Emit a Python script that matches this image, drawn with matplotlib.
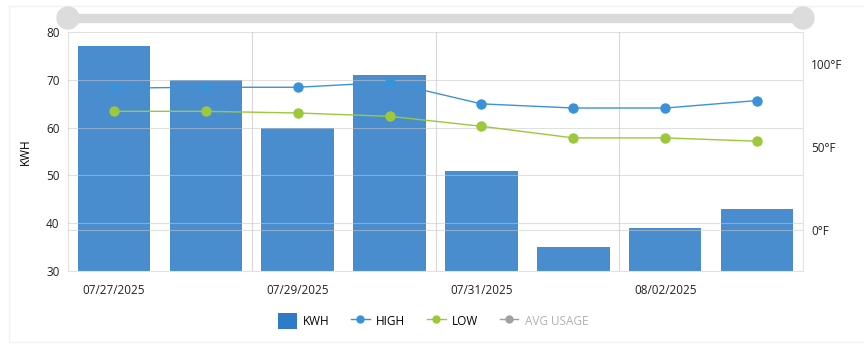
import numpy as np
import matplotlib.pyplot as plt
from matplotlib.patches import Patch, Ellipse, Rectangle
from matplotlib.lines import Line2D

plt.rcParams['font.family'] = ['Open Sans', 'DejaVu Sans']
plt.rcParams['font.size'] = 8.5

# daily usage and temperatures
dates = ["07/27/2025", "07/28/2025", "07/29/2025", "07/30/2025",
         "07/31/2025", "08/01/2025", "08/02/2025", "08/03/2025"]
kwh = [77, 70, 60, 71, 51, 35, 39, 43]
high_f = [85.5, 86, 86, 89, 76, 73.5, 73.5, 78]
low_f = [71.5, 71.5, 70.5, 68.5, 62.5, 55.5, 55.5, 53.5]

bar_col = "#4a8dce"
high_col = "#3b92d8"
low_col = "#9cc83c"

fig = plt.figure(figsize=(8.64, 3.45), dpi=100)
ax = fig.add_axes([68 / 864, 1 - 271 / 345, (803 - 68) / 864, (271 - 32) / 345])

x = np.arange(len(dates))
ax.bar(x, kwh, width=0.79, color=bar_col, zorder=2)
ax.set_xlim(-0.5, len(dates) - 0.5)
ax.set_ylim(30, 80)
ax.set_yticks([30, 40, 50, 60, 70, 80])
ax.set_ylabel("KWH", labelpad=10)

# horizontal grid sits above the bars, faintly
for yv in [40, 50, 60, 70]:
    ax.axhline(yv, color="#c8c8c8", lw=0.8, alpha=0.55, zorder=3)
# vertical separators every two days
for xv in [1.5, 3.5, 5.5]:
    ax.axvline(xv, color="#c8c8c8", lw=0.8, alpha=0.7, zorder=3)

ax.set_xticks(x[::2])
ax.set_xticklabels(dates[::2])
ax.tick_params(axis="both", length=0, colors="#222222", pad=6)
ax.tick_params(axis="x", pad=9)
for side in ["top", "left", "right", "bottom"]:
    ax.spines[side].set_color("#e2e2e2")
    ax.spines[side].set_linewidth(0.8)

# temperature axis on the right
ax2 = ax.twinx()
ax2.set_ylim(-24.7, 119.3)
ax2.set_yticks([0, 50, 100])
ax2.set_yticklabels(["0°F", "50°F", "100°F"])
ax2.tick_params(axis="y", length=0, colors="#222222", pad=6)
ax2.axhline(0, color="#c8c8c8", lw=0.8, alpha=0.55, zorder=1)
for side in ["top", "left", "right", "bottom"]:
    ax2.spines[side].set_visible(False)
ax2.plot(x, high_f, color=high_col, lw=1.0, marker="o", ms=7.5,
         markeredgewidth=0, zorder=4)
ax2.plot(x, low_f, color=low_col, lw=1.0, marker="o", ms=7.5,
         markeredgewidth=0, zorder=4)

# range slider above the plot
sl_y = 1 - 18 / 345
fig.patches.append(Rectangle((68 / 864, sl_y - 4 / 345), (803 - 68) / 864, 8 / 345,
                             transform=fig.transFigure, color="#dadada", zorder=1))
for hx in [68, 803]:
    fig.patches.append(Ellipse((hx / 864, sl_y), 22 / 864, 22 / 345,
                               transform=fig.transFigure, color="#dcdcdc", zorder=2))
    for dx in [-1.5, 1.5]:
        fig.add_artist(Line2D([(hx + dx) / 864] * 2, [sl_y - 5 / 345, sl_y + 5 / 345],
                              transform=fig.transFigure, color="white", lw=0.8))

# faint outer frame
fig.patches.append(Rectangle((9 / 864, 3 / 345), 860 / 864, 336 / 345,
                             transform=fig.transFigure, fill=False,
                             edgecolor="#f2f2f2", lw=1.0, zorder=0))

handles = [
    Patch(facecolor="#2f7bc8", edgecolor="none"),
    Line2D([], [], color=high_col, marker="o", ms=6, lw=1.0, markeredgewidth=0),
    Line2D([], [], color=low_col, marker="o", ms=6, lw=1.0, markeredgewidth=0),
    Line2D([], [], color="#a0a0a0", marker="o", ms=6, lw=1.0, markeredgewidth=0),
]
leg = fig.legend(handles, ["KWH", "HIGH", "LOW", "AVG USAGE"], ncol=4,
                 loc="center", bbox_to_anchor=(433 / 864, 1 - 321 / 345),
                 frameon=False, handlelength=1.6, handleheight=1.8,
                 columnspacing=1.8, handletextpad=0.55, fontsize=8.5)
leg.get_texts()[3].set_color("#b0b0b0")

fig.savefig("out.png", dpi=100)
